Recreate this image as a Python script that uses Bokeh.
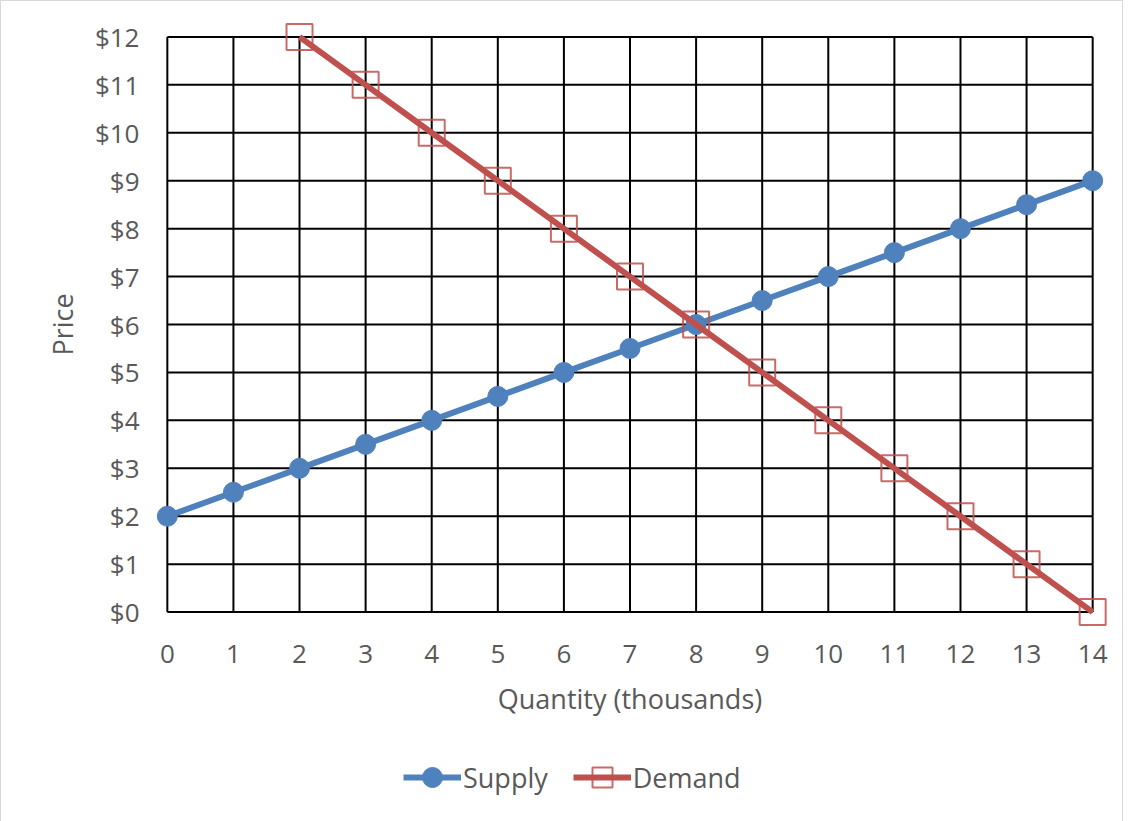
from bokeh.plotting import figure
from bokeh.layouts import column
from bokeh.models import Range1d, FixedTicker, Legend, LegendItem
from bokeh.embed import file_html
from bokeh.resources import INLINE

# Data
quantity_supply = [0, 1, 2, 3, 4, 5, 6, 7, 8, 9, 10, 11, 12, 13, 14]
price_supply = [2, 2.5, 3, 3.5, 4, 4.5, 5, 5.5, 6, 6.5, 7, 7.5, 8, 8.5, 9]
quantity_demand = [2, 3, 4, 5, 6, 7, 8, 9, 10, 11, 12, 13, 14]
price_demand = [12, 11, 10, 9, 8, 7, 6, 5, 4, 3, 2, 1, 0]
x_ticks = list(range(0, 15))
y_ticks = list(range(0, 13))
y_tick_labels = ["$" + str(v) for v in y_ticks]

FONT = "Open Sans"
TXT = "#595959"
BLUE = "#4F81BD"
RED = "#C0504D"
PAD = 0.3

p = figure(frame_width=965, frame_height=604,
           x_range=Range1d(x_ticks[0] - PAD, x_ticks[-1] + PAD),
           y_range=Range1d(y_ticks[0] - PAD, y_ticks[-1] + PAD),
           output_backend="svg", toolbar_location=None,
           min_border_left=146, min_border_top=21, min_border_right=8, min_border_bottom=110)
p.outline_line_color = None
p.xgrid.visible = False
p.ygrid.visible = False

# grid lines restricted to data area
p.segment(x0=x_ticks, x1=x_ticks, y0=[y_ticks[0]] * len(x_ticks), y1=[y_ticks[-1]] * len(x_ticks),
          line_color="black", line_width=2)
p.segment(x0=[x_ticks[0]] * len(y_ticks), x1=[x_ticks[-1]] * len(y_ticks), y0=y_ticks, y1=y_ticks,
          line_color="black", line_width=2)

for ax in (p.xaxis[0], p.yaxis[0]):
    ax.axis_line_color = None
    ax.major_tick_line_color = None
    ax.minor_tick_line_color = None
    ax.major_label_text_font = FONT
    ax.major_label_text_color = TXT
    ax.major_label_text_font_size = "26px"
    ax.axis_label_text_font = FONT
    ax.axis_label_text_color = TXT
    ax.axis_label_text_font_size = "27px"
    ax.axis_label_text_font_style = "normal"

p.xaxis.ticker = FixedTicker(ticks=x_ticks)
p.yaxis.ticker = FixedTicker(ticks=y_ticks)
p.yaxis.major_label_overrides = {v: l for v, l in zip(y_ticks, y_tick_labels)}
p.xaxis.axis_label = "Quantity (thousands)"
p.yaxis.axis_label = "Price"
p.xaxis.major_label_standoff = 12
p.xaxis.axis_label_standoff = 14
p.yaxis.major_label_standoff = 2
p.yaxis.axis_label_standoff = 11

p.line(quantity_supply, price_supply, line_color=BLUE, line_width=6)
p.scatter(quantity_supply, price_supply, marker="circle", size=20,
          fill_color=BLUE, line_color=BLUE)
p.line(quantity_demand, price_demand, line_color=RED, line_width=6)
p.scatter(quantity_demand, price_demand, marker="square", size=26,
          fill_color=None, line_color=RED, line_width=2, line_alpha=0.85)

# legend strip below the chart (series drawn off-view so only the legend shows)
lf = figure(width=1121, height=86, x_range=Range1d(1000, 1001), y_range=Range1d(1000, 1001),
            output_backend="svg", toolbar_location=None,
            x_axis_location=None, y_axis_location=None, min_border=0)
lf.outline_line_color = None
lf.xgrid.visible = False
lf.ygrid.visible = False
ls = lf.line(quantity_supply, price_supply, line_color=BLUE, line_width=6)
ss = lf.scatter(quantity_supply, price_supply, marker="circle", size=20,
                fill_color=BLUE, line_color=BLUE)
ld = lf.line(quantity_demand, price_demand, line_color=RED, line_width=6)
sd = lf.scatter(quantity_demand, price_demand, marker="square", size=26,
                fill_color=None, line_color=RED, line_width=2, line_alpha=0.85)

legend = Legend(items=[LegendItem(label="Supply", renderers=[ls, ss]),
                       LegendItem(label="Demand", renderers=[ld, sd])],
                orientation="horizontal", location=(256, 20),
                label_text_font=FONT, label_text_color=TXT, label_text_font_size="27px",
                glyph_width=58, glyph_height=50, label_standoff=2, spacing=25,
                border_line_color=None, background_fill_alpha=0, margin=0, padding=0)
lf.add_layout(legend, "center")

page = column(p, lf, spacing=0)
page.styles = {"border": "1px solid #D9D9D9"}

open("out.html", "w").write(file_html(page, INLINE))
